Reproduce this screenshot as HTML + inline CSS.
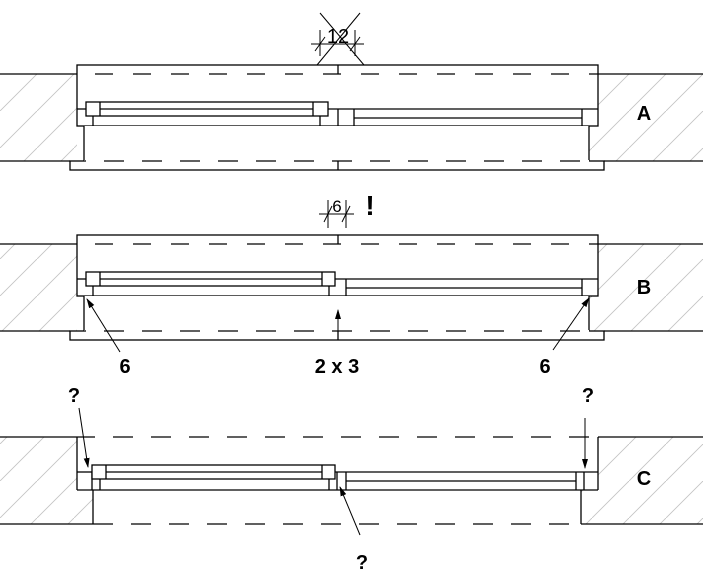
<!DOCTYPE html>
<html><head><meta charset="utf-8"><style>html,body{margin:0;padding:0;background:#fff}svg{display:block}</style></head><body>
<svg width="703" height="585" viewBox="0 0 703 585" xmlns="http://www.w3.org/2000/svg" font-family="Liberation Sans, Arial, sans-serif">
<defs>
<pattern id="h" patternUnits="userSpaceOnUse" width="37" height="37">
<line x1="0" y1="37" x2="37" y2="0" stroke="#c4c4c4" stroke-width="0.9"/>
</pattern>
<marker id="ar" markerWidth="10" markerHeight="10" refX="9" refY="3" orient="auto" markerUnits="userSpaceOnUse"><path d="M0,0 L10,3 L0,6 z" fill="#000"/></marker>
</defs>
<g stroke="#000" stroke-width="1.3" fill="none">
<!-- ===== A ===== -->
<rect x="0" y="74" width="77" height="87" fill="url(#h)" stroke="none"/>
<rect x="589" y="74" width="114" height="87" fill="url(#h)" stroke="none"/>
<rect x="77" y="65" width="521" height="61" fill="#fff"/>
<rect x="84" y="126" width="505" height="35" fill="#fff" stroke="none"/>
<line x1="0" y1="74" x2="77" y2="74"/><line x1="598" y1="74" x2="703" y2="74"/>
<line x1="0" y1="161" x2="70" y2="161"/><line x1="604" y1="161" x2="703" y2="161"/>
<line x1="77" y1="74" x2="598" y2="74" stroke-dasharray="18 20" stroke-dashoffset="-18"/>
<line x1="338" y1="65" x2="338" y2="74"/>
<line x1="77" y1="109" x2="86" y2="109"/>
<rect x="86" y="102" width="242" height="14"/>
<line x1="100" y1="102" x2="100" y2="116"/><line x1="313" y1="102" x2="313" y2="116"/>
<line x1="100" y1="109" x2="313" y2="109"/>
<line x1="93" y1="116" x2="93" y2="126"/><line x1="320" y1="116" x2="320" y2="126"/>
<line x1="328" y1="109" x2="598" y2="109"/>
<line x1="338" y1="109" x2="338" y2="126"/><line x1="354" y1="109" x2="354" y2="126"/>
<line x1="354" y1="118" x2="582" y2="118"/><line x1="582" y1="109" x2="582" y2="126"/>
<line x1="84" y1="126" x2="84" y2="161"/><line x1="589" y1="126" x2="589" y2="161"/>
<rect x="70" y="161" width="534" height="9" fill="#fff"/>
<line x1="84" y1="161" x2="589" y2="161" stroke="#fff" stroke-width="2"/>
<line x1="84" y1="161" x2="589" y2="161" stroke-dasharray="20 18" stroke-dashoffset="-20"/>
<line x1="338" y1="161" x2="338" y2="170"/>
<g stroke-width="1">
<line x1="320" y1="30" x2="320" y2="56"/><line x1="355" y1="30" x2="355" y2="56"/>
<line x1="311" y1="44" x2="364" y2="44"/>
<line x1="315" y1="51" x2="325" y2="37"/><line x1="350" y1="51" x2="360" y2="37"/>
<line x1="320" y1="13" x2="364" y2="65"/><line x1="360" y1="13" x2="317" y2="65"/>
</g>
<!-- ===== B ===== -->
<rect x="0" y="244" width="77" height="87" fill="url(#h)" stroke="none"/>
<rect x="589" y="244" width="114" height="87" fill="url(#h)" stroke="none"/>
<rect x="77" y="235" width="521" height="61" fill="#fff"/>
<rect x="84" y="296" width="505" height="35" fill="#fff" stroke="none"/>
<line x1="0" y1="244" x2="77" y2="244"/><line x1="598" y1="244" x2="703" y2="244"/>
<line x1="0" y1="331" x2="70" y2="331"/><line x1="604" y1="331" x2="703" y2="331"/>
<line x1="77" y1="244" x2="598" y2="244" stroke-dasharray="18 20" stroke-dashoffset="-18"/>
<line x1="338" y1="235" x2="338" y2="244"/>
<line x1="77" y1="279" x2="86" y2="279"/>
<rect x="86" y="272" width="249" height="14"/>
<line x1="100" y1="272" x2="100" y2="286"/><line x1="322" y1="272" x2="322" y2="286"/>
<line x1="100" y1="279" x2="322" y2="279"/>
<line x1="93" y1="286" x2="93" y2="296"/><line x1="329" y1="286" x2="329" y2="296"/>
<line x1="335" y1="279" x2="598" y2="279"/>
<line x1="346" y1="279" x2="346" y2="296"/>
<line x1="346" y1="288" x2="582" y2="288"/><line x1="582" y1="279" x2="582" y2="296"/>
<line x1="84" y1="296" x2="84" y2="331"/><line x1="589" y1="296" x2="589" y2="331"/>
<rect x="70" y="331" width="534" height="9" fill="#fff"/>
<line x1="84" y1="331" x2="589" y2="331" stroke="#fff" stroke-width="2"/>
<line x1="84" y1="331" x2="589" y2="331" stroke-dasharray="20 18" stroke-dashoffset="-20"/>
<line x1="338" y1="331" x2="338" y2="340"/>
<g stroke-width="1">
<line x1="328" y1="200" x2="328" y2="228"/><line x1="346" y1="200" x2="346" y2="228"/>
<line x1="319" y1="214" x2="354" y2="214"/>
<line x1="324" y1="222" x2="332" y2="206"/><line x1="342" y1="222" x2="350" y2="206"/>
<line x1="338" y1="331" x2="338" y2="310" marker-end="url(#ar)"/>
<line x1="120" y1="352" x2="87" y2="299" marker-end="url(#ar)"/>
<line x1="553" y1="350" x2="589" y2="298" marker-end="url(#ar)"/>
</g>
<!-- ===== C ===== -->
<path d="M0,437 H77 V490 H93 V524 H0 Z" fill="url(#h)" stroke="none"/>
<path d="M703,437 H598 V490 H581 V524 H703 Z" fill="url(#h)" stroke="none"/>
<line x1="0" y1="437" x2="93" y2="437"/><line x1="598" y1="437" x2="703" y2="437"/>
<line x1="0" y1="524" x2="113" y2="524"/><line x1="581" y1="524" x2="703" y2="524"/>
<line x1="93" y1="437" x2="598" y2="437" stroke-dasharray="20 18" stroke-dashoffset="-20"/>
<line x1="113" y1="524" x2="581" y2="524" stroke-dasharray="20 18" stroke-dashoffset="-18"/>
<line x1="77" y1="437" x2="77" y2="490"/><line x1="598" y1="437" x2="598" y2="490"/>
<line x1="77" y1="472" x2="92" y2="472"/>
<line x1="77" y1="490" x2="598" y2="490"/>
<line x1="92" y1="472" x2="92" y2="490"/><line x1="100" y1="479" x2="100" y2="490"/>
<rect x="92" y="465" width="243" height="14" fill="#fff"/>
<line x1="106" y1="465" x2="106" y2="479"/><line x1="322" y1="465" x2="322" y2="479"/>
<line x1="106" y1="472" x2="322" y2="472"/>
<line x1="329" y1="479" x2="329" y2="490"/>
<line x1="335" y1="472" x2="598" y2="472"/>
<line x1="337" y1="472" x2="337" y2="490"/><line x1="346" y1="472" x2="346" y2="490"/>
<line x1="346" y1="481" x2="576" y2="481"/>
<line x1="576" y1="472" x2="576" y2="490"/><line x1="584" y1="472" x2="584" y2="490"/>
<line x1="93" y1="490" x2="93" y2="524"/><line x1="581" y1="490" x2="581" y2="524"/>
<g stroke-width="1">
<line x1="79" y1="408" x2="88" y2="467" marker-end="url(#ar)"/>
<line x1="585" y1="418" x2="585" y2="468" marker-end="url(#ar)"/>
<line x1="360" y1="535" x2="340" y2="487" marker-end="url(#ar)"/>
</g>
</g>
<g font-weight="bold" fill="#000" text-anchor="middle">
<text x="338" y="43" font-size="20" font-weight="normal">12</text>
<text x="337" y="212" font-size="17" font-weight="normal">6</text>
<text x="370" y="215" font-size="28">!</text>
<text x="644" y="120" font-size="20">A</text>
<text x="644" y="294" font-size="20">B</text>
<text x="644" y="485" font-size="20">C</text>
<text x="125" y="373" font-size="20">6</text>
<text x="337" y="373" font-size="20">2 x 3</text>
<text x="545" y="373" font-size="20">6</text>
<text x="74" y="402" font-size="20">?</text>
<text x="588" y="402" font-size="20">?</text>
<text x="362" y="569" font-size="20">?</text>
</g>
</svg>
</body></html>
